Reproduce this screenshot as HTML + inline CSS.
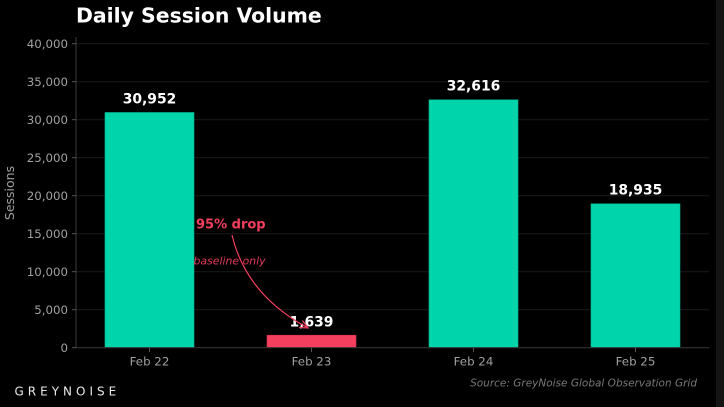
<!DOCTYPE html>
<html>
<head>
<meta charset="utf-8">
<style>
  html,body{margin:0;padding:0;background:#000;}
  svg{display:block;}
  text{font-family:"DejaVu Sans","Liberation Sans",sans-serif;}
</style>
</head>
<body>
<svg width="724" height="407" viewBox="0 0 724 407" xmlns="http://www.w3.org/2000/svg">
  <rect x="0" y="0" width="724" height="407" fill="#000"/>
  <rect x="716" y="0" width="8" height="407" fill="#141414"/>

  <!-- title -->
  <text x="76" y="22.5" font-size="20.4" font-weight="bold" fill="#ffffff">Daily Session Volume</text>

  <!-- gridlines -->
  <g stroke="#1a1a1a" stroke-width="1">
    <line x1="76" y1="43.7" x2="709" y2="43.7"/>
    <line x1="76" y1="81.7" x2="709" y2="81.7"/>
    <line x1="76" y1="119.7" x2="709" y2="119.7"/>
    <line x1="76" y1="157.7" x2="709" y2="157.7"/>
    <line x1="76" y1="195.7" x2="709" y2="195.7"/>
    <line x1="76" y1="233.7" x2="709" y2="233.7"/>
    <line x1="76" y1="271.7" x2="709" y2="271.7"/>
    <line x1="76" y1="309.7" x2="709" y2="309.7"/>
  </g>

  <!-- bars -->
  <rect x="105" y="112.5" width="89" height="235.2" fill="#00D4AA" stroke="#00b894" stroke-width="0.6"/>
  <rect x="267" y="335.2" width="89" height="12.5" fill="#F43F5E" stroke="#d63350" stroke-width="0.6"/>
  <rect x="429" y="99.8" width="89" height="247.9" fill="#00D4AA" stroke="#00b894" stroke-width="0.6"/>
  <rect x="591" y="203.8" width="89" height="143.9" fill="#00D4AA" stroke="#00b894" stroke-width="0.6"/>

  <!-- spines -->
  <line x1="76" y1="37" x2="76" y2="348" stroke="#333" stroke-width="1.2"/>
  <line x1="76" y1="347.7" x2="709" y2="347.7" stroke="#333" stroke-width="1.2"/>

  <!-- ticks -->
  <g stroke="#555" stroke-width="1">
    <line x1="72" y1="43.7" x2="76" y2="43.7"/>
    <line x1="72" y1="81.7" x2="76" y2="81.7"/>
    <line x1="72" y1="119.7" x2="76" y2="119.7"/>
    <line x1="72" y1="157.7" x2="76" y2="157.7"/>
    <line x1="72" y1="195.7" x2="76" y2="195.7"/>
    <line x1="72" y1="233.7" x2="76" y2="233.7"/>
    <line x1="72" y1="271.7" x2="76" y2="271.7"/>
    <line x1="72" y1="309.7" x2="76" y2="309.7"/>
    <line x1="72" y1="347.7" x2="76" y2="347.7"/>
    <line x1="149.5" y1="348" x2="149.5" y2="352"/>
    <line x1="311.5" y1="348" x2="311.5" y2="352"/>
    <line x1="473.5" y1="348" x2="473.5" y2="352"/>
    <line x1="635.5" y1="348" x2="635.5" y2="352"/>
  </g>
  <g font-size="11.8" fill="#a0a0a0" text-anchor="end">
    <text x="68" y="48">40,000</text>
    <text x="68" y="86">35,000</text>
    <text x="68" y="124">30,000</text>
    <text x="68" y="162">25,000</text>
    <text x="68" y="200">20,000</text>
    <text x="68" y="238">15,000</text>
    <text x="68" y="276">10,000</text>
    <text x="68" y="314">5,000</text>
    <text x="68" y="352">0</text>
  </g>
  <g font-size="11.8" fill="#a0a0a0" text-anchor="middle">
    <text x="149.5" y="365.5">Feb 22</text>
    <text x="311.5" y="365.5">Feb 23</text>
    <text x="473.5" y="365.5">Feb 24</text>
    <text x="635.5" y="365.5">Feb 25</text>
  </g>
  <text transform="translate(14,193) rotate(-90)" font-size="12.5" fill="#a0a0a0" text-anchor="middle">Sessions</text>

  <!-- value labels -->
  <g font-size="13.9" font-weight="bold" fill="#ffffff" text-anchor="middle">
    <text x="149.5" y="103.3">30,952</text>
    <text x="473.5" y="90.7">32,616</text>
    <text x="635.5" y="194.3">18,935</text>
    <text x="311.5" y="326.7">1,639</text>
  </g>

  <!-- annotation -->
  <text x="196" y="228.7" font-size="13" font-weight="bold" fill="#F43F5E">95% drop</text>
  <text x="193.5" y="264.5" font-size="10.9" font-style="italic" fill="#e23a58">baseline only</text>
  <path d="M232,235 Q246,294.5 308,328" fill="none" stroke="#F43F5E" stroke-width="1.2"/>
  <path d="M299,327.5 L308,328 L302.5,320.5" fill="none" stroke="#F43F5E" stroke-width="1.2"/>

  <!-- footer -->
  <text x="14.5" y="395.7" font-size="12" fill="#e8e8e8" letter-spacing="4">GREYNOISE</text>
  <text x="697" y="386.5" font-size="10.5" font-style="italic" fill="#777" text-anchor="end">Source: GreyNoise Global Observation Grid</text>
</svg>
</body>
</html>
